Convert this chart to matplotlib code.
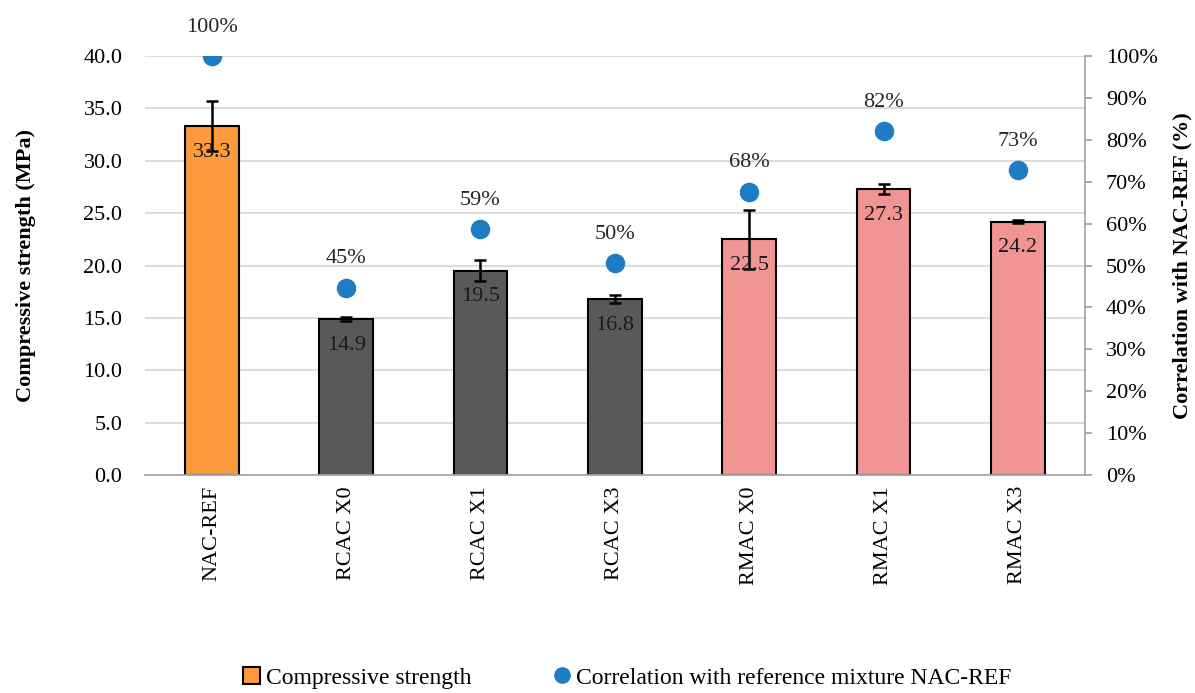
import matplotlib.pyplot as plt
import numpy as np
from matplotlib.lines import Line2D
from matplotlib.patches import Patch

plt.rcParams['font.family'] = ['Liberation Serif', 'DejaVu Serif']

# ---- data ----
categories = ['NAC-REF', 'RCAC X0', 'RCAC X1', 'RCAC X3', 'RMAC X0', 'RMAC X1', 'RMAC X3']
strength = [33.3, 14.9, 19.5, 16.8, 22.5, 27.3, 24.2]
strength_err = [2.4, 0.2, 1.0, 0.4, 2.8, 0.5, 0.15]
correlation = [100.0, 44.7, 58.6, 50.5, 67.6, 82.0, 72.7]
corr_labels = ['100%', '45%', '59%', '50%', '68%', '82%', '73%']
groups = ['ref', 'rcac', 'rcac', 'rcac', 'rmac', 'rmac', 'rmac']

COLORS = {'ref': '#FD9A3C', 'rcac': '#595959', 'rmac': '#F09494', 'dot': '#1E7CC4'}
FS = 16

fig = plt.figure(figsize=(11.95, 6.93), dpi=100)
ax = fig.add_axes([0.121, 0.3146, 0.787, 0.6045])
ax2 = ax.twinx()

x = np.arange(len(categories))
bar_colors = [COLORS[g] for g in groups]
bars = ax.bar(x, strength, 0.4, color=bar_colors, edgecolor='black', linewidth=1.5, zorder=2)
ax.errorbar(x, strength, yerr=strength_err, fmt='none', ecolor='black', elinewidth=1.8,
            capsize=4, capthick=1.8, zorder=3)

for xi, v in zip(x, strength):
    ax.annotate(f'{v:.1f}', xy=(xi, v), xytext=(0, -12), textcoords='offset points',
                ha='center', va='top', fontsize=FS, color='#1a1a1a', zorder=4)

ax.set_xlim(-0.5, len(categories) - 0.5)
ax.set_ylim(0, 40)
ax.set_yticks(np.arange(0, 40.1, 5))
ax.set_yticklabels([f'{t:.1f}' for t in np.arange(0, 40.1, 5)], fontsize=FS)
ax.set_xticks(x)
ax.set_xticklabels(categories, rotation=90, fontsize=FS)
ax.tick_params(axis='y', length=0, pad=16)
ax.tick_params(axis='x', length=0, pad=8)
ax.yaxis.grid(True, color='#D9D9D9', linewidth=1.3, zorder=0)
ax.set_axisbelow(True)
for s in ['top', 'right', 'left']:
    ax.spines[s].set_visible(False)
ax.spines['bottom'].set_color('#A6A6A6')
ax.spines['bottom'].set_linewidth(1.3)
ax.set_ylabel('Compressive strength (MPa)', fontsize=FS, fontweight='bold')
ax.yaxis.set_label_coords(-0.115, 0.5)

ax2.scatter(x, correlation, s=170, color=COLORS['dot'], zorder=5)
for xi, v, lab in zip(x, correlation, corr_labels):
    ax2.annotate(lab, xy=(xi, v), xytext=(0, 14), textcoords='offset points',
                 ha='center', va='bottom', fontsize=FS, color='#262626')
ax2.set_ylim(0, 100)
ax2.set_yticks(np.arange(0, 101, 10))
ax2.set_yticklabels([f'{t}%' for t in range(0, 101, 10)], fontsize=FS)
ax2.tick_params(axis='y', length=5, color='#A6A6A6', width=1.3, pad=10)
for s in ['top', 'left', 'bottom']:
    ax2.spines[s].set_visible(False)
ax2.spines['right'].set_color('#A6A6A6')
ax2.spines['right'].set_linewidth(1.3)
ax2.set_ylabel('Correlation with NAC-REF (%)', fontsize=FS, fontweight='bold')
ax2.yaxis.set_label_coords(1.0926, 0.5)

handles = [Patch(facecolor=COLORS['ref'], edgecolor='black', linewidth=1.5),
           Line2D([], [], marker='o', linestyle='none', color=COLORS['dot'], markersize=11)]
fig.legend(handles, ['Compressive strength', 'Correlation with reference mixture NAC-REF'],
           loc='center', bbox_to_anchor=(0.525, 0.022), ncol=2, frameon=False,
           fontsize=17, handlelength=0.7, handletextpad=0.25, columnspacing=3.5)

fig.savefig('out.png', dpi=100)
